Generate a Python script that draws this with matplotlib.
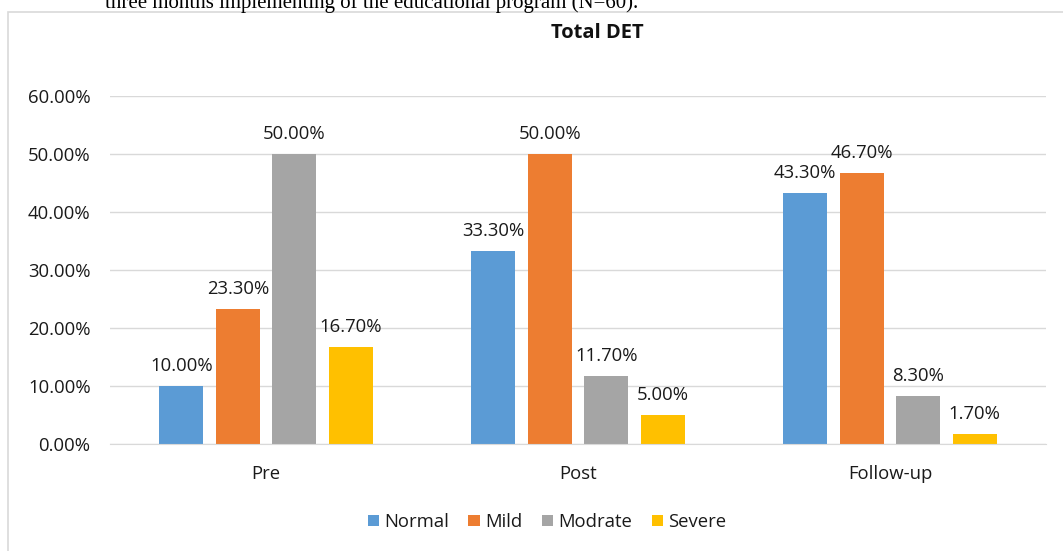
import matplotlib.pyplot as plt
import numpy as np
from matplotlib.patches import Rectangle

groups = ["Pre", "Post", "Follow-up"]
series = ["Normal", "Mild", "Modrate", "Severe"]
colors = ["#5B9BD5", "#ED7D31", "#A5A5A5", "#FFC000"]
normal = [10.0, 33.3, 43.3]
mild = [23.3, 50.0, 46.7]
modrate = [50.0, 11.7, 8.3]
severe = [16.7, 5.0, 1.7]
values = [normal, mild, modrate, severe]
yticks = [0, 10, 20, 30, 40, 50, 60]

W, H = 1063, 551
fig = plt.figure(figsize=(W / 100, H / 100), dpi=100)
font = "Open Sans"
fs = 13.3
tc = "#1a1a1a"

# axes in pixel coordinates: x 110..1046, y 96..444
ax = fig.add_axes([110 / W, 1 - 444 / H, 936 / W, 348 / H])

x = np.arange(len(groups))
pitch = 0.181
width = 0.141
for i, (name, vals, c) in enumerate(zip(series, values, colors)):
    pos = x + (i - 1.5) * pitch
    ax.bar(pos, vals, width, color=c, label=name, zorder=3)
    for p, v in zip(pos, vals):
        ax.text(p, v + 2.6, f"{v:.2f}%", ha="center", va="baseline",
                fontsize=fs, family=font, color=tc)

ax.set_xlim(-0.5, 2.5)
ax.set_ylim(0, 60)
ax.set_yticks(yticks)
ax.set_yticklabels([f"{t:.2f}%" for t in yticks], fontsize=fs, family=font, color=tc)
ax.set_xticks(x)
ax.set_xticklabels(groups, fontsize=fs, family=font, color=tc)
ax.tick_params(axis="y", length=0, pad=14)
ax.tick_params(axis="x", length=0, pad=15)
ax.yaxis.grid(True, color="#d9d9d9", linewidth=1, zorder=0)
for s in ["top", "right", "left"]:
    ax.spines[s].set_visible(False)
ax.spines["bottom"].set_color("#d9d9d9")
ax.spines["bottom"].set_zorder(4)

fig.text(597 / W, 1 - 33 / H, "Total DET", ha="center", va="center",
         fontsize=14.5, fontweight="bold", family=font, color="#111111")

fig.text(372 / W, 1 - 8 / H, "three months implementing of the educational program (N=60).",
         ha="center", va="baseline", fontsize=15, family="Liberation Serif")

fig.patches.append(Rectangle((8 / W, -0.05), 1.1, 1 - 12 / H + 0.05, transform=fig.transFigure,
                             fill=False, edgecolor="#d9d9d9", linewidth=1.2))

leg = fig.legend(loc="center", bbox_to_anchor=(547 / W, 1 - 522 / H), ncol=4,
                 frameon=False, handlelength=0.6, handleheight=0.6, handletextpad=0.3,
                 columnspacing=1.05, prop={"family": font, "size": fs})
for t in leg.get_texts():
    t.set_color(tc)

fig.savefig("out.png", dpi=100)
